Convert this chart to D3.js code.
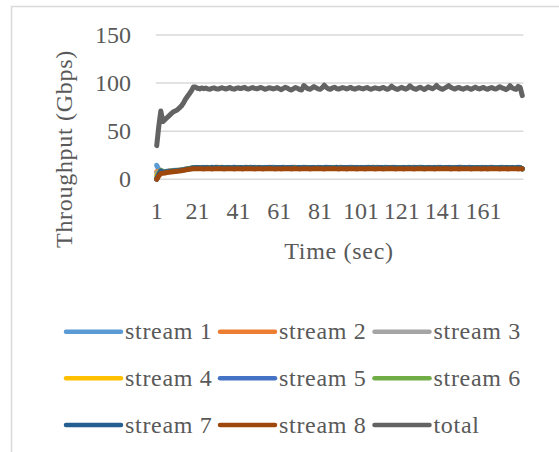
<!DOCTYPE html>
<html>
<head>
<meta charset="utf-8">
<script src="https://cdn.jsdelivr.net/npm/d3@7/dist/d3.min.js"></script>
<style>
  html, body { margin: 0; padding: 0; background: #fff; }
  svg { display: block; }
  text { font-family: "Liberation Serif", "Times New Roman", serif; fill: #595959; }
</style>
</head>
<body>
<svg id="chart" width="559" height="452"></svg>
<script>
// Per-second throughput (Gbps), seconds 1..180
const seconds = d3.range(1, 181);
const xTickLabels = [1, 21, 41, 61, 81, 101, 121, 141, 161];
const yTicks = [0, 50, 100, 150];
const seriesNames = ["stream 1", "stream 2", "stream 3", "stream 4", "stream 5", "stream 6", "stream 7", "stream 8", "total"];
const seriesColors = ["#5B9BD5", "#ED7D31", "#A5A5A5", "#FFC000", "#4472C4", "#70AD47", "#255E91", "#9E480E", "#636363"];

const stream1 = [
14.5,10,9.5,8,8.2,8.4,8.6,8.9,9.1,9.3,9.4,9.6,9.9,10.2,10.6,11,11.4,11.8,12.3,12.2,
11.8,12.1,12.4,11.9,12.2,11.6,12,12.5,11.9,12.2,11.7,12.3,12,11.8,12.4,12.1,11.6,12.2,12.6,11.9,
12.3,11.8,12,12.4,11.7,12.1,12.5,11.9,12.2,11.6,12,12.3,11.8,12.4,12.1,11.7,12.2,12.6,12,11.8,
12.2,11.9,12.5,12.1,11.7,12.3,12,11.8,12.4,12.2,11.6,12.1,12.5,11.9,12.2,11.8,12.3,12,11.7,12.4,
12.1,11.9,12.3,12.6,11.8,12.2,12,11.7,12.4,12.1,11.9,12.3,12,11.6,12.2,12.5,11.9,12.1,12.4,11.8,
12,12.3,11.7,12.2,12.5,11.9,12.1,11.8,12.4,12,11.7,12.3,12.6,12,11.8,12.2,11.9,12.4,12.1,11.7,
12.3,12,11.8,12.5,12.1,11.9,12.2,11.6,12.3,12.6,12,11.8,12.2,12.4,11.9,12.1,11.7,12.3,12,12.5,
11.8,12.2,12,11.7,12.4,12.1,11.9,12.3,12.6,11.8,12.1,12,11.7,12.4,12.2,11.9,12.3,12,11.8,12.5,
12.1,11.7,12.2,12.4,11.9,12.1,12.3,11.8,12,12.5,11.9,12.2,11.7,12.3,12.1,11.8,12.4,12.6,12,10.8];

const stream2 = [
8,8.5,9.2,7.8,8,8.2,8.4,8.6,8.8,9,9.1,9.4,9.6,10,10.4,10.8,11.2,11.6,12.1,12.2,
12,11.7,12.3,12.1,11.8,12.4,12.2,11.6,12,12.5,11.9,12.1,12.4,11.7,12.2,12,11.8,12.3,12.1,11.9,
12.4,12,11.7,12.2,12.5,11.8,12.1,12.3,11.9,12.2,12.4,11.7,12.1,12,11.8,12.5,12.2,11.9,12.3,12,
11.8,12.2,12.4,11.9,12.1,11.7,12.3,12.5,12,11.8,12.2,12.4,11.9,12.1,12.3,11.7,12,12.4,12.2,11.8,
12.3,12,11.7,12.1,12.4,12.2,11.8,12.3,12,11.9,12.5,12.1,11.8,12.2,12,11.7,12.4,12.1,11.9,12.3,
12.1,11.8,12.4,12,11.7,12.3,12.5,12,11.9,12.2,12.4,11.8,12.1,12.3,11.9,12,12.5,11.7,12.2,12.1,
11.9,12.4,12.1,11.8,12.3,12,12.5,11.9,12.1,11.7,12.3,12.2,11.8,12,12.4,12.1,11.9,12.2,12.5,11.8,
12.2,12,11.8,12.4,12.1,11.7,12.3,12,11.9,12.5,12.2,11.8,12.1,12.4,12,11.7,12.2,12.3,11.9,12.1,
12.4,12,11.8,12.2,12.5,11.9,12.1,12.3,11.7,12,12.4,12.1,11.8,12.2,12.4,11.9,12,12.3,12.1,10.9];

const stream3 = [
6.5,7.5,9.4,7.6,7.9,8.1,8.3,8.5,8.8,8.9,9.1,9.3,9.6,9.9,10.4,10.8,11.2,11.6,12,12.1,
12.2,12,11.8,12.4,12.1,11.9,12.3,12,11.7,12.2,12.5,11.9,12.1,12.3,11.8,12,12.4,11.9,12.2,12.1,
11.8,12.3,12.1,11.9,12.4,12,11.8,12.2,12.5,11.9,12.1,12.3,12,11.7,12.2,12.4,11.8,12.1,12.3,12,
12.4,12.1,11.8,12.2,12,11.9,12.5,12.1,11.8,12.3,12,11.9,12.2,12.4,11.7,12.1,12.3,12,11.9,12.2,
11.9,12.2,12.4,11.8,12.1,12,11.7,12.3,12.5,12,11.9,12.2,12.1,11.8,12.4,12,11.9,12.3,12.1,11.7,
12.3,12,11.9,12.4,12.1,11.8,12.2,12,12.5,11.9,12.1,12.3,11.8,12.2,12,12.4,11.9,12.1,11.8,12.3,
12,12.2,11.8,12.1,12.4,12,11.9,12.3,12.1,11.8,12.5,12,11.9,12.2,12.1,11.7,12.4,12,11.9,12.2,
12.1,11.8,12.3,12,11.9,12.4,12.1,11.8,12.2,12,12.3,11.9,12.1,12.5,12,11.8,12.2,12.1,11.9,12.3,
12,12.2,11.9,12.4,12.1,11.8,12.2,12,12.3,11.9,12.1,12.4,12,11.8,12.2,12.1,11.9,12.3,12,10.9];

const stream4 = [
4,7,9.3,7.7,8,8.2,8.3,8.6,8.8,8.9,9.1,9.3,9.5,9.9,10.3,10.7,11.1,11.5,12.1,12,
11.9,12.3,12,11.8,12.2,12.4,11.9,12.1,12.3,11.8,12,12.2,12.5,11.9,12.1,11.8,12.3,12.1,11.9,12.4,
12.1,11.9,12.2,12.4,11.8,12,12.3,12.1,11.7,12.2,12,12.4,11.9,12.1,12.3,11.8,12,12.2,12.4,11.9,
12.1,12.3,11.9,12,12.4,12.2,11.8,12.1,12.3,12,11.8,12.2,12.1,11.9,12.4,12,11.8,12.3,12.1,12,
12.2,11.9,12.1,12.3,12,11.8,12.4,12.1,11.9,12.2,12,12.3,11.9,12.1,12.2,11.8,12.4,12,12.1,11.9,
12,12.2,12.1,11.8,12.3,12,11.9,12.4,12.1,11.8,12.2,12,12.3,11.9,12.1,12.4,12,11.8,12.2,12.1,
12.3,11.9,12.1,12.2,11.8,12.4,12,12.1,11.9,12.3,12,12.2,11.8,12.1,12.3,12,11.9,12.2,12.4,12,
11.9,12.1,12.3,11.8,12.2,12,12.4,12.1,11.9,12.2,12,12.3,11.8,12.1,12.2,11.9,12.3,12,12.1,11.9,
12.2,12.1,11.9,12.3,12,12.2,11.8,12.1,12.4,12,11.9,12.2,12.1,11.8,12.3,12,12.2,11.9,12.1,10.8];

const stream5 = [
1.5,6.5,9.1,7.5,7.8,8.1,8.3,8.5,8.7,8.8,9,9.3,9.6,10,10.3,10.7,11.1,11.6,12,12.1,
12.1,11.8,12.2,12.4,11.9,12,12.3,11.8,12.1,12.4,12,11.9,12.2,12.1,11.7,12.3,12,12.2,11.9,12.1,
12,12.3,11.9,12.1,12.2,11.8,12.4,12,12.1,11.9,12.3,12,11.8,12.2,12.4,12.1,11.9,12,12.2,12.3,
11.9,12.1,12.2,12,11.8,12.3,12.1,11.9,12.2,12.4,12,11.8,12.1,12.3,12,11.9,12.2,12.1,11.8,12.4,
12,12.2,11.9,12.1,12.3,12,11.8,12.2,12.1,11.9,12.4,12,12.2,11.9,12.1,12.3,11.8,12,12.2,12.1,
11.9,12.3,12,12.1,11.8,12.2,12.4,11.9,12.1,12,12.3,11.8,12.2,12.1,11.9,12,12.3,12.2,11.8,12.1,
12.2,12,11.9,12.3,12.1,11.8,12.2,12,12.4,11.9,12.1,12.2,11.8,12,12.3,12.1,11.9,12.2,12,12.1,
12,12.3,12.1,11.9,12.2,11.8,12.1,12.3,12,11.9,12.2,12.1,12.3,11.8,12,12.2,12.1,11.9,12.3,12,
11.9,12.2,12,12.1,11.8,12.3,12.1,12,11.9,12.2,12.3,12,11.8,12.1,12.2,12,11.9,12.3,12.1,10.9];

const stream6 = [
0.5,6,9,7.4,7.8,8,8.2,8.4,8.6,8.9,9.1,9.2,9.5,9.9,10.3,10.7,11.1,11.5,12,12,
12,12.2,11.9,12.1,12.3,11.8,12.2,12,12.1,11.9,12.3,12.1,11.8,12.2,12.4,12,11.9,12.1,12.3,12,
12.2,11.9,12.1,12.3,12,11.8,12.2,12.1,11.9,12.4,12,12.2,11.9,12.1,11.8,12.3,12,12.1,11.9,12.2,
12.1,12,11.8,12.3,12.2,11.9,12.1,12,12.3,11.9,12.2,12.1,11.8,12,12.3,12.1,11.9,12.2,12,12.1,
11.9,12.3,12.1,12,11.8,12.2,12.1,12.3,11.9,12,12.2,11.8,12.1,12.3,12,11.9,12.2,12.1,11.8,12.3,
12.1,11.9,12.2,12,12.3,12.1,11.8,12,12.2,12.1,11.9,12.3,12,11.8,12.2,12.1,12,11.9,12.3,12.2,
11.9,12.1,12.3,12,11.8,12.1,12.2,11.9,12,12.3,12.1,11.9,12.2,12,11.8,12.3,12.1,12,11.9,12.2,
12.2,11.9,12,12.1,12.3,12,11.9,12.2,11.8,12.1,12.3,12,12.1,11.9,12.2,12,11.8,12.3,12.1,12,
12.1,12.3,11.9,12,12.2,11.8,12.1,12.2,12,12.3,11.9,12.1,12,12.2,11.9,12.1,12.3,12,11.9,10.8];

const stream7 = [
0,5,8.6,7.2,7.6,7.9,8.1,8.3,8.6,8.8,9,9.2,9.4,9.8,10.2,10.6,11,11.4,11.9,12,
12.2,11.9,12.1,12,12.3,12.1,11.8,12.2,12,12.3,11.9,12.1,12.2,12,11.9,12.3,12.1,11.8,12.2,12.1,
11.9,12.2,12,12.1,12.3,11.9,12,12.2,12.1,11.8,12.3,12,12.1,11.9,12.2,12,12.3,11.8,12.1,12.2,
12,12.2,12.1,11.9,12.3,12,12.2,11.8,12.1,12,12.3,11.9,12.2,12.1,11.9,12,12.3,12.2,11.9,12,
12.3,12,11.9,12.2,12.1,12.3,11.9,12,12.2,12.1,11.8,12.3,12,12.2,11.9,12.1,12,12.3,12.1,11.9,
12.2,12.1,11.9,12.3,12,12.2,11.9,12.1,12,12.3,12.2,11.9,12.1,12,12.3,11.9,12.2,12,12.1,11.9,
12.1,12.3,12,11.9,12.2,12,12.1,12.3,11.8,12.1,12.2,12,11.9,12.3,12.1,12,12.2,11.9,12.1,12.3,
11.9,12.1,12.2,12.3,11.9,12.1,12,12.2,12.3,11.9,12,12.2,12.1,11.9,12.3,12.1,12,12.2,11.9,12.1,
12,12.2,12.1,11.9,12.3,12.1,12,11.9,12.2,12.1,11.9,12.3,12,12.1,12.2,11.9,12.1,12.2,12,10.9];

const stream8 = [
0,3.5,6,6.2,6.6,7,7.3,7.6,7.9,8.2,8.4,8.6,8.9,9.3,9.7,10.1,10.4,10.7,10.9,11,
11,10.9,11,10.8,10.9,11,10.9,10.8,11,10.9,11,11.1,10.9,10.8,11,10.9,11,10.9,10.8,11,
10.9,11,10.8,10.9,11,11.1,10.9,11,10.8,10.9,11,10.9,10.8,11,10.9,11,11.1,10.9,10.8,11,
10.9,10.8,11,10.9,11,10.9,10.8,11,11.1,10.9,10.8,11,10.9,11,10.9,10.8,11,10.9,11,11.1,
10.9,11,10.8,10.9,11,10.9,11,11.1,10.9,10.8,11,10.9,11,10.8,10.9,11,10.9,11,10.8,10.9,
11,10.9,10.8,11,11.1,10.9,11,10.8,10.9,11,10.9,10.8,11,10.9,11,11.1,10.9,10.8,11,10.9,
11,10.8,10.9,11,10.9,11,10.8,10.9,11.1,11,10.9,10.8,11,10.9,11,10.9,10.8,11,10.9,11,
10.9,11,11.1,10.9,10.8,11,10.9,11,10.8,10.9,11,10.9,11.1,10.9,10.8,11,10.9,11,10.9,10.8,
11,10.9,10.8,11,10.9,11.1,10.9,11,10.8,10.9,11,10.9,10.8,11,10.9,11,10.9,10.8,11,10.9];

const total = [
35,55,71,60,62,64,66,68,70,71,72,74,76,79,83,86,89,92,96,96,
94.5,94,95,94.2,94.8,94,93.6,94.5,95,94.2,93.8,94.6,95.2,94.4,93.9,94.8,95.4,94.1,93.7,94.6,
95.1,94.3,94.9,95.6,94.2,93.8,94.7,95.3,94.5,94,94.8,95.5,94.6,93.6,94.3,95.2,94.7,93.9,94.6,95.3,
94.1,93.2,94.5,95.6,94.8,93.5,92.8,94.2,95.4,94.6,93.3,92.9,97.5,95.8,94.2,93.6,94.8,96.4,95.1,94,
93.5,95.2,97.8,95.5,94.1,93.6,94.9,95.7,94.4,93.8,94.6,95.3,94.7,94,94.8,95.6,94.3,93.7,94.5,95.2,
94.6,93.9,94.7,95.4,94.2,93.6,94.4,95.1,94.5,93.9,94.8,95.5,94.3,93.5,94.6,96.8,95.2,94.1,93.4,94.7,
95.6,94.4,93.7,94.9,97.2,95.3,94.2,93.5,94.8,95.7,94.5,93.4,94.6,96.1,95,94.2,95.3,97.5,95.4,94.3,
93.6,94.8,95.9,97.4,95.6,94.5,93.8,94.9,95.4,94.3,93.7,94.6,95.3,94.4,93.5,94.7,95.8,94.6,93.9,94.8,
95.5,94.2,93.6,94.7,95.4,94.3,93.8,94.9,96.2,95.1,94.3,93.2,94.5,97.3,95.2,94,93.4,96.6,95.4,87];

const seriesValues = [stream1, stream2, stream3, stream4, stream5, stream6, stream7, stream8, total];

const svg = d3.select("#chart");

// outer chart frame (extends past the right and bottom edges)
svg.append("rect")
  .attr("x", 11.5).attr("y", 6.5)
  .attr("width", 600).attr("height", 500)
  .attr("fill", "none")
  .attr("stroke", "#d9d9d9")
  .attr("stroke-width", 1.5);

const plot = { left: 155.7, right: 523.3, top: 35, bottom: 179.3 };

const x = d3.scaleBand().domain(seconds).range([plot.left, plot.right]).padding(0);
const xc = d => x(d) + x.bandwidth() / 2;
const y = d3.scaleLinear().domain([0, 150]).range([plot.bottom, plot.top]);

// horizontal gridlines
svg.append("g")
  .selectAll("line")
  .data(yTicks)
  .join("line")
  .attr("x1", plot.left).attr("x2", plot.right)
  .attr("y1", d => y(d)).attr("y2", d => y(d))
  .attr("stroke", "#d9d9d9")
  .attr("stroke-width", 1.5);

// y axis labels
const yAxis = d3.axisLeft(y).tickValues(yTicks).tickSize(0).tickPadding(0);
svg.append("g")
  .attr("transform", `translate(131,0)`)
  .call(yAxis)
  .call(g => g.select(".domain").remove())
  .call(g => g.selectAll("text")
    .attr("font-size", 24)
    .attr("font-family", "Liberation Serif, serif")
    .attr("fill", "#595959")
    .attr("dy", "0.3em"));

// x axis labels
const xAxis = d3.axisBottom(x).tickValues(xTickLabels).tickSize(0).tickPadding(0);
svg.append("g")
  .attr("transform", `translate(0,${plot.bottom})`)
  .call(xAxis)
  .call(g => g.select(".domain").remove())
  .call(g => g.selectAll("text")
    .attr("font-size", 24)
    .attr("font-family", "Liberation Serif, serif")
    .attr("fill", "#595959")
    .attr("dy", null)
    .attr("y", 40));

// axis titles
svg.append("text")
  .attr("x", 339).attr("y", 259)
  .attr("text-anchor", "middle")
  .attr("font-size", 24)
  .attr("letter-spacing", 0.7)
  .text("Time (sec)");

svg.append("text")
  .attr("transform", "translate(72,149) rotate(-90)")
  .attr("text-anchor", "middle")
  .attr("font-size", 24)
  .attr("letter-spacing", 0.7)
  .text("Throughput (Gbps)");

// data lines
const line = d3.line()
  .x((d, i) => xc(seconds[i]))
  .y(d => y(d));

svg.append("g")
  .selectAll("path")
  .data(seriesValues)
  .join("path")
  .attr("d", d => line(d))
  .attr("fill", "none")
  .attr("stroke", (d, i) => seriesColors[i])
  .attr("stroke-width", 5)
  .attr("stroke-linejoin", "round")
  .attr("stroke-linecap", "round");

// legend: 3 columns x 3 rows
const legendCols = [66, 220, 374.5];
const legendRows = [331.7, 378.3, 425];
const legend = svg.append("g")
  .selectAll("g")
  .data(seriesNames)
  .join("g")
  .attr("transform", (d, i) => `translate(${legendCols[i % 3]},${legendRows[Math.floor(i / 3)]})`);

legend.append("line")
  .attr("x1", 0).attr("x2", 55)
  .attr("stroke", (d, i) => seriesColors[i])
  .attr("stroke-width", 4.5)
  .attr("stroke-linecap", "round");

legend.append("text")
  .attr("x", 59).attr("y", 7.5)
  .attr("font-size", 24)
  .attr("letter-spacing", 0.7)
  .text(d => d);
</script>
</body>
</html>
